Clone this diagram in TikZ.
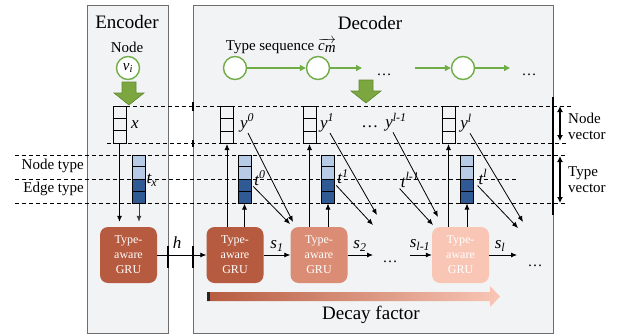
\documentclass[tikz,border=0pt]{standalone}
\usepackage{fontspec}
\setmainfont{Liberation Serif}
\usepackage{tikz}
\usetikzlibrary{calc,arrows.meta}
\definecolor{panel-bg}{HTML}{F2F3F5}
\definecolor{panel-line}{HTML}{6E6E6E}
\definecolor{seq-green}{HTML}{70AD47}
\definecolor{fat-green}{HTML}{7CA63F}
\definecolor{fat-green-line}{HTML}{5F8A30}
\definecolor{cell-light}{HTML}{B7CAE6}
\definecolor{cell-dark}{HTML}{2F5A94}
\definecolor{gru-dark}{HTML}{B65B3F}
\definecolor{gru-mid}{HTML}{DA8C74}
\definecolor{gru-light}{HTML}{F9C6B6}

% three-cell node vector
\newcommand{\nodevec}[2]{%
  \node[vecbox, minimum height=37pt] (#1) at (#2) {};
  \foreach \k in {1,2}
    \draw[line width=1pt] ($(#1.north west)!\k/3!(#1.south west)$) -- ($(#1.north east)!\k/3!(#1.south east)$);
}
% four-cell type vector
\newcommand{\typevec}[2]{%
  \node[vecbox, minimum height=48pt, path picture={
      \fill[cell-light] (path picture bounding box.north west) rectangle (path picture bounding box.east);
      \fill[cell-dark] (path picture bounding box.west) rectangle (path picture bounding box.south east);}]
    (#1) at (#2) {};
  \foreach \k in {1,2,3}
    \draw[line width=1pt] ($(#1.north west)!\k/4!(#1.south west)$) -- ($(#1.north east)!\k/4!(#1.south east)$);
}
% fat green down arrow
\newcommand{\fatarrow}[2]{%
  \draw[fatarrow, shift={(#1,#2)}] (-7,0) -- (7,0) -- (7,11) -- (15,11) -- (0,23) -- (-15,11) -- (-7,11) -- cycle;
}

\begin{document}
\begin{tikzpicture}[x=1pt, y=-1pt,
  panel/.style={draw=panel-line, fill=panel-bg, line width=0.8pt},
  guide/.style={dash pattern=on 4pt off 3pt, line width=0.9pt},
  seqnode/.style={circle, draw=seq-green, fill=white, line width=1.4pt, minimum size=23pt, inner sep=0pt},
  seqarrow/.style={draw=seq-green, line width=1.6pt, -{Triangle[length=6pt, width=6pt]}},
  fatarrow/.style={fill=fat-green, draw=fat-green-line, line width=0.6pt},
  vecbox/.style={draw, line width=1pt, minimum width=13pt, inner sep=0pt},
  gru/.style={rounded corners=8pt, minimum width=57pt, minimum height=56pt, inner sep=0pt,
    text=white, align=center, font=\fontsize{12}{15}\selectfont},
  flow/.style={-{Latex[length=6pt, width=5pt]}, line width=0.8pt},
  varlab/.style={font=\fontsize{17}{17}\selectfont\itshape, inner sep=1pt},
  sidelab/.style={font=\fontsize{15}{16}\selectfont, align=left, inner sep=0pt},
  title/.style={font=\fontsize{19}{19}\selectfont}]
  \useasboundingbox (0,0) rectangle (619,335);

  % panels
  \draw[panel] (87,5) rectangle (168,333);
  \draw[panel] (193,5) rectangle (553,333);
  \foreach \x/\a/\b in {168/246/268, 193/246/268, 193/102/111, 193/140/147}
    \draw[line width=2pt] (\x,\a) -- (\x,\b);
  \draw[line width=1.5pt] (553,97) -- (553,215);

  % guide lines
  \foreach \y/\a/\b in {106/126/573, 143/107/567, 155/15/567, 179/15/518, 203/15/565}
    \draw[guide] (\a,\y) -- (\b,\y);

  \node[title] (enctitle) at (127,22) {Encoder};
  \node[title] (dectitle) at (370,23) {Decoder};

  % encoder input
  \node[sidelab] (nodelab) at (127,47) {Node};
  \node[seqnode, font=\fontsize{15}{15}\selectfont\itshape] (vi) at (128,68) {v\textsubscript{i}};
  \fatarrow{129}{82}

  % type sequence
  \node[sidelab] (seqlab) at (281,46) {Type sequence $\overrightarrow{\textit{c}_{\textit{m}}}$};
  \foreach \n/\x in {c1/235, c2/318, c3/463}
    \node[seqnode] (\n) at (\x,68) {};
  \coordinate (seqend1) at (362,68);
  \coordinate (seqstart3) at (415,68);
  \coordinate (seqend2) at (510,68);
  \draw[seqarrow] (c1) -- (c2);
  \draw[seqarrow] (c2) -- (seqend1);
  \draw[seqarrow] (seqstart3) -- (c3);
  \draw[seqarrow] (c3) -- (seqend2);
  \node[sidelab, anchor=base] (seqdots1) at (384,75) {\dots};
  \node[sidelab, anchor=base] (seqdots2) at (529,75) {\dots};
  \fatarrow{366}{80}

  % vectors
  \nodevec{xv}{119.5,124.5}
  \nodevec{yv0}{227,125}
  \nodevec{yv1}{309.5,125}
  \nodevec{yvl}{448.5,125}
  \typevec{tvx}{139,179}
  \typevec{tv0}{244.5,179}
  \typevec{tv1}{328,179}
  \typevec{tvl}{467,179}

  \node[varlab] (xlab) at (135,125) {x};
  \node[varlab] (ylab0) at (247,123) {y\textsuperscript{0}};
  \node[varlab] (ylab1) at (327,123) {y\textsuperscript{1}};
  \node[varlab] (ylabm) at (384,122) {{\upshape\dots}\hspace{7pt}y\textsuperscript{l-1}};
  \node[varlab] (ylabl) at (466,123) {y\textsuperscript{l}};
  \node[varlab] (tlabx) at (152,180) {t\textsubscript{x}};
  \node[varlab] (tlab0) at (260,178) {t\textsuperscript{0}};
  \node[varlab] (tlab1) at (343,177) {t\textsuperscript{1}};
  \node[varlab] (tlabm) at (410,180) {t\textsuperscript{l-1}};
  \node[varlab] (tlabl) at (483,177) {t\textsuperscript{l}};

  % GRUs
  \node[gru, fill=gru-dark] (genc) at (128.5,255) {Type-\\aware\\GRU};
  \node[gru, fill=gru-dark] (g1) at (235,255) {Type-\\aware\\GRU};
  \node[gru, fill=gru-mid] (g2) at (319,255) {Type-\\aware\\GRU};
  \node[gru, fill=gru-light] (gl) at (460.5,255) {Type-\\aware\\GRU};

  % encoder flows
  \draw[flow, shorten >=5pt] (xv.south) -- (xv.south |- genc.north);
  \draw[flow, shorten >=5pt, black!75] (tvx.south) -- (tvx.south |- genc.north);
  \draw[flow] (genc.east) -- (g1.west);
  \node[varlab] (hlab) at (177,243) {h};

  % decoder outputs
  \foreach \g/\y/\t in {g1/yv0/tv0, g2/yv1/tv1, gl/yvl/tvl} {
    \draw[flow] (\g.north -| \y) -- (\y.south);
    \draw[flow] (\g.north -| \t) -- (\t.south);
  }

  % states
  \coordinate (s2end) at (373,255);
  \coordinate (smstart) at (410,255);
  \coordinate (slend) at (517,255);
  \draw[flow] (g1.east) -- (g2.west);
  \draw[flow] (g2.east) -- (s2end);
  \draw[flow] (smstart) -- (gl.west);
  \draw[flow] (gl.east) -- (slend);
  \node[varlab] (s1lab) at (277,246) {s\textsubscript{1}};
  \node[varlab] (s2lab) at (360,246) {s\textsubscript{2}};
  \node[varlab] (smlab) at (420,245) {s\textsubscript{l-1}};
  \node[varlab] (sllab) at (500,246) {s\textsubscript{l}};
  \node[sidelab, anchor=base] (sdots1) at (390,262) {\dots};
  \node[sidelab, anchor=base] (sdots2) at (535,266) {\dots};

  % feedback into next step
  \coordinate (fy0) at (293,222);
  \coordinate (ft0) at (290,224);
  \coordinate (fy1) at (377,215);
  \coordinate (ft1) at (373,225);
  \coordinate (fym) at (438,217);
  \coordinate (ftm) at (433,225);
  \coordinate (fyl) at (523,222);
  \coordinate (ftl) at (518,228);
  \draw[flow] ([xshift=1pt]ylab0.south) -- (fy0);
  \draw[flow] (tlab0.south west) -- (ft0);
  \draw[flow] ([xshift=3pt]ylab1.south) -- (fy1);
  \draw[flow] (tlab1.south west) -- (ft1);
  \draw[flow] ([xshift=9pt]ylabm.south) -- (fym);
  \draw[flow] (tlabm.south west) -- (ftm);
  \draw[flow] ([xshift=4pt]ylabl.south) -- (fyl);
  \draw[flow] (tlabl.south west) -- (ftl);

  % right braces
  \coordinate (nvtop) at (560,106);
  \coordinate (nvbot) at (560,141);
  \coordinate (tvtop) at (560,156);
  \coordinate (tvbot) at (560,203);
  \draw[{Latex[length=6pt, width=6pt]}-{Latex[length=6pt, width=6pt]}, line width=1.4pt] (nvtop) -- (nvbot);
  \draw[{Latex[length=6pt, width=6pt]}-{Latex[length=6pt, width=6pt]}, line width=1.4pt] (tvtop) -- (tvbot);
  \node[sidelab, anchor=west] (nvlab) at (568,126) {Node\\vector};
  \node[sidelab, anchor=west] (tvlab) at (568,180) {Type\\vector};
  \node[sidelab, anchor=east] (ntlab) at (84,166) {Node type};
  \node[sidelab, anchor=east] (etlab) at (84,189) {Edge type};

  % decay factor
  \shade[left color=gru-dark, right color=gru-light]
    (207,292) -- (490,292) -- (490,286) -- (500,296.5) -- (490,307) -- (490,301) -- (207,301) -- cycle;
  \fill[black!85] (207,292) rectangle (210,301);
  \node[title] (decay) at (371,315) {Decay factor};
\end{tikzpicture}
\end{document}
